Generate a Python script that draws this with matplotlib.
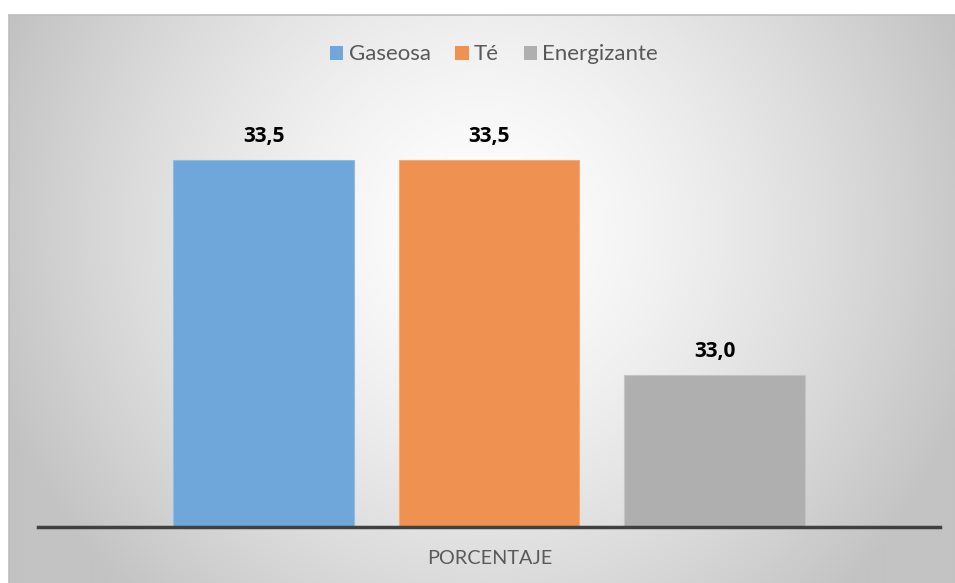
import numpy as np
import matplotlib
matplotlib.use("Agg")
import matplotlib.pyplot as plt
from matplotlib.patches import Patch

categories = ["Gaseosa", "Té", "Energizante"]
values = [33.5, 33.5, 33.0]
labels = ["33,5", "33,5", "33,0"]
colors = ["#70A7DA", "#EF9151", "#AFAFAF"]
xlabel = "PORCENTAJE"

W, H = 955, 583
fig = plt.figure(figsize=(W / 100, H / 100), dpi=100)
fig.patch.set_facecolor("white")

# background chart area with radial gradient
x0, y0 = 9, 15
bg = fig.add_axes([x0 / W, 0, 1 - x0 / W, (H - y0) / H])
yy, xx = np.mgrid[y0:H, x0:W]
d = np.sqrt((xx - 482.0) ** 2 + (yy - 230.0) ** 2)
g = 255 - 60 * (d / 510.0) ** 1.4
g = np.clip(g, 195, 250) / 255.0
img = np.dstack([g, g, g])
bg.imshow(img, aspect="auto", extent=[0, 1, 0, 1], interpolation="bilinear")
bg.set_xlim(0, 1)
bg.set_ylim(0, 1)
for s in ["top", "left"]:
    bg.spines[s].set_color("#bdbdbd")
    bg.spines[s].set_linewidth(1.2)
for s in ["bottom", "right"]:
    bg.spines[s].set_visible(False)
bg.set_xticks([])
bg.set_yticks([])

# main axes
left, right = 38, 940
top, base = 117, 527
ax = fig.add_axes([left / W, (H - base) / H, (right - left) / W, (base - top) / H])
ax.patch.set_alpha(0)
ymin, ymax = 32.648, 33.6
x = np.arange(len(categories))
bars = ax.bar(x + 1e-9, np.array(values) - ymin, bottom=ymin, width=0.8,
              color=colors, edgecolor=["#8fbce6", "#f5ab78", "#c4c4c4"], linewidth=0.8,
              zorder=2)
ax.set_xlim(-1.0, 3.0)
ax.set_ylim(ymin, ymax)
for xi, v, lab in zip(x, values, labels):
    ax.annotate(lab, (xi, v), xytext=(0, 9.5), textcoords="offset points",
                ha="center", va="bottom", fontsize=15, fontweight="bold",
                family="Open Sans", color="black")
for s in ["top", "left", "right"]:
    ax.spines[s].set_visible(False)
ax.spines["bottom"].set_color("#404040")
ax.spines["bottom"].set_linewidth(2.5)
ax.spines["bottom"].set_zorder(3)
ax.set_xticks([])
ax.set_yticks([])

fig.text(489.5 / W, 1 - 559 / H, xlabel, ha="center", va="center",
         fontsize=14.3, family="Lato", color="#595959")

handles = [Patch(facecolor=c, edgecolor="none") for c in colors]
fig.legend(handles, categories, loc="center", bbox_to_anchor=(494 / W, 1 - 54.5 / H),
           ncol=3, frameon=False, handlelength=0.6, handleheight=0.6,
           handletextpad=0.25, columnspacing=1.1,
           prop={"family": "Lato", "size": 16}, labelcolor="#595959")

fig.savefig("out.png", dpi=100)
